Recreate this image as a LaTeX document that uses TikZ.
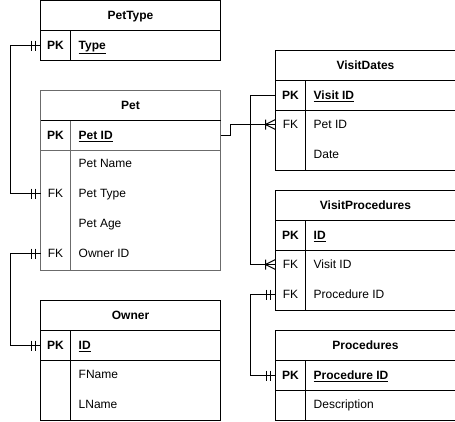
\documentclass[tikz,border=0pt]{standalone}
\usepackage{fontspec}
\setmainfont{Liberation Sans}
\usetikzlibrary{calc}
\def\mandone(#1){\draw[line width=1pt] ($(#1)+(-5,-5)$) -- ++(0,10) ($(#1)+(-9,-5)$) -- ++(0,10);}
\def\crowfoot(#1){\draw[line width=1pt] ($(#1)+(-10,-5)$) -- ++(0,10) ($(#1)+(-10,0)$) -- ++(10,-5) ($(#1)+(-10,0)$) -- ++(10,5);}
\tikzset{
	tbl/.style={draw, line width=1pt, minimum width=180pt, inner sep=0pt, outer sep=0pt},
	tabletitle/.style={font=\fontsize{12}{14}\selectfont\bfseries, text height=8.6pt, text depth=0pt, inner sep=0pt},
	keycell/.style={minimum width=30pt, text height=8.6pt, text depth=0pt, inner sep=0pt, outer sep=0pt},
	fieldcell/.style={anchor=west, text height=8.6pt, text depth=0pt, inner sep=0pt},
	link/.style={line width=1pt},
	petgray/.style={draw=black!58, line width=1.7pt}
}
\begin{document}
\begin{tikzpicture}[x=1pt, y=-1pt, font=\fontsize{12}{14}\selectfont]
		%%%%% START %%%%%
		\useasboundingbox (-0.5, -0.5) rectangle (454.5, 420.5);
		
		% PetType
		\node[tbl, minimum height=60pt] (pettype) at (130, 30) {};
		\draw[line width=1pt] (40, 30) -- (220, 30);
		\draw[line width=1pt] (70, 30) -- (70, 60);
		\node[tabletitle] (pettype-title) at (130, 15) {PetType};
		\node[keycell] (pettype-pk) at (55, 45) {\textbf{PK}};
		\node[fieldcell] (pettype-type) at (78, 45) {\textbf{\underline{Type}}};
		
		% Pet
		\node[tbl, petgray, minimum height=180pt] (pet) at (130, 180) {};
		\draw[line width=1pt] (40, 120) -- (220, 120);
		\draw[petgray] (40, 150) -- (220, 150);
		\draw[petgray] (70, 120) -- (70, 270);
		\node[tabletitle] (pet-title) at (130, 105) {Pet};
		\node[keycell] (pet-pk) at (55, 135) {\textbf{PK}};
		\node[fieldcell] (pet-id) at (78, 135) {\textbf{\underline{Pet ID}}};
		\node[fieldcell] (pet-name) at (78, 163) {Pet Name};
		\node[keycell] (pet-fk1) at (55, 193) {FK};
		\node[fieldcell] (pet-type) at (78, 193) {Pet Type};
		\node[fieldcell] (pet-age) at (78, 223) {Pet Age};
		\node[keycell] (pet-fk2) at (55, 253) {FK};
		\node[fieldcell] (pet-owner) at (78, 253) {Owner ID};
		
		% Owner
		\node[tbl, minimum height=120pt] (owner) at (130, 360) {};
		\draw[line width=1pt] (40, 330) -- (220, 330);
		\draw[line width=1pt] (40, 360) -- (220, 360);
		\draw[line width=1pt] (70, 330) -- (70, 420);
		\node[tabletitle] (owner-title) at (130, 315) {Owner};
		\node[keycell] (owner-pk) at (55, 345) {\textbf{PK}};
		\node[fieldcell] (owner-id) at (78, 345) {\textbf{\underline{ID}}};
		\node[fieldcell] (owner-fname) at (78, 374) {FName};
		\node[fieldcell] (owner-lname) at (78, 404) {LName};
		
		% VisitDates
		\node[tbl, minimum height=120pt] (vd) at (365, 110) {};
		\draw[line width=1pt] (275, 80) -- (455, 80);
		\draw[line width=1pt] (275, 110) -- (455, 110);
		\draw[line width=1pt] (305, 80) -- (305, 170);
		\node[tabletitle] (vd-title) at (365, 65) {VisitDates};
		\node[keycell] (vd-pk) at (290, 95) {\textbf{PK}};
		\node[fieldcell] (vd-id) at (313, 95) {\textbf{\underline{Visit ID}}};
		\node[keycell] (vd-fk) at (290, 124) {FK};
		\node[fieldcell] (vd-pet) at (313, 124) {Pet ID};
		\node[fieldcell] (vd-date) at (313, 154) {Date};
		
		% VisitProcedures
		\node[tbl, minimum height=120pt] (vp) at (365, 250) {};
		\draw[line width=1pt] (275, 220) -- (455, 220);
		\draw[line width=1pt] (275, 250) -- (455, 250);
		\draw[line width=1pt] (305, 220) -- (305, 310);
		\node[tabletitle] (vp-title) at (365, 205) {VisitProcedures};
		\node[keycell] (vp-pk) at (290, 235) {\textbf{PK}};
		\node[fieldcell] (vp-id) at (313, 235) {\textbf{\underline{ID}}};
		\node[keycell] (vp-fk1) at (290, 264) {FK};
		\node[fieldcell] (vp-visit) at (313, 264) {Visit ID};
		\node[keycell] (vp-fk2) at (290, 294) {FK};
		\node[fieldcell] (vp-proc) at (313, 294) {Procedure ID};
		
		% Procedures
		\node[tbl, minimum height=90pt] (proc) at (365, 375) {};
		\draw[line width=1pt] (275, 360) -- (455, 360);
		\draw[line width=1pt] (275, 390) -- (455, 390);
		\draw[line width=1pt] (305, 360) -- (305, 420);
		\node[tabletitle] (proc-title) at (365, 345) {Procedures};
		\node[keycell] (proc-pk) at (290, 375) {\textbf{PK}};
		\node[fieldcell] (proc-id) at (313, 375) {\textbf{\underline{Procedure ID}}};
		\node[fieldcell] (proc-desc) at (313, 404) {Description};
		
		% links
		\draw[link] (pettype-pk.west) -- ++(-30, 0) |- (pet-fk1.west);
		\mandone(pettype-pk.west)
		\mandone(pet-fk1.west)
		
		\draw[link] (pet-fk2.west) -- ++(-30, 0) |- (owner-pk.west);
		\mandone(pet-fk2.west)
		\mandone(owner-pk.west)
		
		\draw[link] (pet.east |- pet-pk) -- ++(10, 0) |- (vd-fk.west);
		\crowfoot(vd-fk.west)
		
		\draw[link] (vd-pk.west) -- ++(-25, 0) |- (vp-fk1.west);
		\crowfoot(vp-fk1.west)
		
		\draw[link] (vp-fk2.west) -- ++(-25, 0) |- (proc-pk.west);
		\mandone(vp-fk2.west)
		\mandone(proc-pk.west)
		
		%%%%% END %%%%%
	\end{tikzpicture}
\end{document}
